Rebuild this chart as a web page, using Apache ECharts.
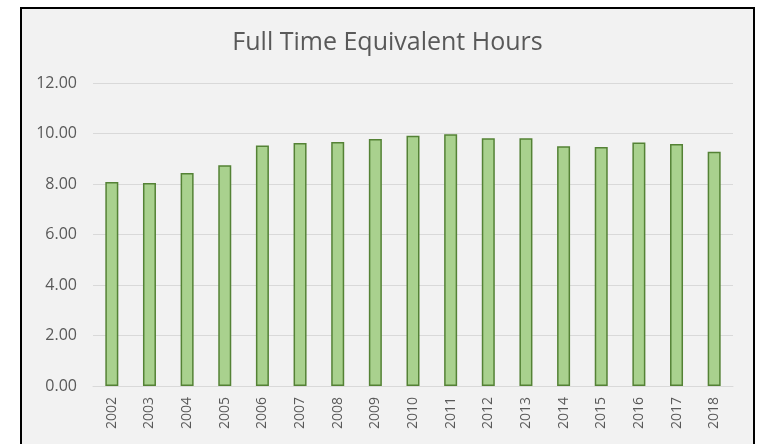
<!DOCTYPE html>
<html>
<head>
<meta charset="utf-8">
<script src="https://cdn.jsdelivr.net/npm/echarts@6/dist/echarts.min.js"></script>
<style>
  html, body { margin: 0; padding: 0; background: #fff; overflow: hidden; }
  #frame {
    position: absolute; left: 20px; top: 7px; width: 735px; height: 460px;
    border: 2px solid #000; box-sizing: border-box; background: #f2f2f2;
  }
  #chart { width: 731px; height: 456px; }
</style>
</head>
<body>
<div id="frame"><div id="chart"></div></div>
<script>
// 年份与数据
const years = ['2002', '2003', '2004', '2005', '2006', '2007', '2008', '2009', '2010',
  '2011', '2012', '2013', '2014', '2015', '2016', '2017', '2018'];
const fteHours = [8.08, 8.04, 8.44, 8.74, 9.52, 9.62, 9.66, 9.78, 9.91,
  9.97, 9.81, 9.81, 9.50, 9.47, 9.64, 9.58, 9.28];

const chart = echarts.init(document.getElementById('chart'));
chart.setOption({
  backgroundColor: '#f2f2f2',
  animation: false,
  title: {
    text: 'Full Time Equivalent Hours',
    left: 'center',
    top: 16,
    textStyle: { fontFamily: 'Open Sans', fontSize: 25, fontWeight: 'normal', color: '#595959' }
  },
  grid: { left: 71, top: 74, width: 640, height: 303 },
  xAxis: {
    type: 'category',
    data: years,
    axisTick: { show: false },
    axisLine: { lineStyle: { color: '#d9d9d9', width: 1 } },
    axisLabel: { rotate: 90, margin: 11, color: '#595959', fontFamily: 'Open Sans', fontSize: 14 }
  },
  yAxis: {
    type: 'value',
    min: 0,
    max: 12,
    interval: 2,
    axisLine: { show: false },
    axisTick: { show: false },
    splitLine: { lineStyle: { color: '#d9d9d9', width: 1 } },
    axisLabel: {
      margin: 16, color: '#595959', fontFamily: 'Open Sans', fontSize: 16,
      formatter: v => v.toFixed(2)
    }
  },
  series: [{
    name: 'FTE Hours',
    type: 'bar',
    data: fteHours,
    barWidth: 13,
    itemStyle: { color: '#a9d18e', borderColor: '#548235', borderWidth: 1.5 }
  }]
});
</script>
</body>
</html>
